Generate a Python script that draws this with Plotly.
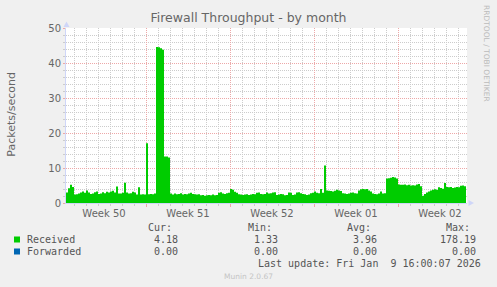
import datetime as dt
import plotly.graph_objects as go

# ---------------- data ----------------
title_text = "Firewall Throughput - by month"
y_title = "Packets/second"
series_start = dt.datetime(2025, 12, 8, 8, 0)
step_hours = 4
view_start = dt.datetime(2025, 12, 8, 8, 0)
view_end = dt.datetime(2026, 1, 10, 18, 0)

received = [
    3.0, 4.2, 5.2, 4.6, 2.4, 2.5,
    2.7, 3.0, 3.3, 2.9, 3.6, 3.0,
    2.6, 2.7, 3.1, 3.3, 2.6, 2.7,
    3.1, 2.8, 3.2, 3.0, 3.3, 3.5,
    3.0, 4.7, 2.7, 2.7, 2.9, 5.8,
    3.0, 2.7, 2.8, 3.2, 3.0, 2.4,
    4.5, 2.4, 2.5, 2.4, 17.1, 2.5,
    2.6, 2.5, 2.7, 44.6, 44.5, 44.2,
    43.8, 13.3, 13.3, 13.0, 2.7, 2.4,
    2.7, 2.5, 2.6, 2.8, 2.4, 2.6,
    2.5, 2.7, 2.9, 2.6, 2.5, 2.4,
    2.5, 2.2, 2.3, 2.1, 2.2, 2.3,
    2.2, 2.4, 2.2, 2.3, 2.9, 3.1,
    2.7, 2.6, 2.8, 2.9, 4.0, 3.8,
    3.2, 2.9, 2.5, 2.4, 2.3, 2.4,
    2.5, 2.3, 2.4, 2.6, 2.5, 2.9,
    3.0, 2.6, 2.5, 2.6, 3.0, 2.7,
    2.8, 3.0, 3.1, 2.3, 2.4, 2.6,
    2.5, 2.2, 2.3, 3.0, 2.9, 2.3,
    2.4, 3.0, 3.1, 2.8, 2.6, 2.5,
    2.3, 2.4, 2.8, 2.9, 3.3, 2.9,
    2.8, 4.0, 2.9, 10.7, 3.6, 3.5,
    3.4, 3.3, 3.5, 3.8, 3.6, 3.4,
    2.8, 2.7, 2.6, 2.7, 2.9, 3.0,
    2.8, 2.7, 3.6, 3.9, 4.0, 3.9,
    4.0, 3.6, 3.3, 2.7, 2.6, 2.5,
    2.7, 3.3, 2.7, 2.8, 7.0, 7.1,
    7.2, 7.4, 7.3, 7.0, 5.3, 5.2,
    5.2, 5.3, 5.1, 5.2, 5.0, 5.1,
    5.0, 5.3, 5.4, 4.8, 2.1, 2.6,
    3.0, 3.3, 3.6, 3.8, 3.9, 3.8,
    4.5, 4.3, 4.1, 5.7, 4.6, 4.5,
    4.6, 4.3, 4.4, 4.6, 4.5, 4.9,
    5.0, 4.8,
]
forwarded = [0.0] * len(received)

week_labels = ["Week 50", "Week 51", "Week 52", "Week 01", "Week 02"]
week_iso = [(2025, 50), (2025, 51), (2025, 52), (2026, 1), (2026, 2)]

stat_headers = ["Cur:", "Min:", "Avg:", "Max:"]
received_stats = ["4.18", "1.33", "3.96", "178.19"]
forwarded_stats = ["0.00", "0.00", "0.00", "0.00"]
series_names = ["Received", "Forwarded"]
series_colors = ["#00CC00", "#0066B3"]
last_update = "Last update: Fri Jan  9 16:00:07 2026"
footer = "Munin 2.0.67"
side_text = "RRDTOOL / TOBI OETIKER"

# ---------------- layout helpers ----------------
W, H = 497, 287
L, R, T, B = 66, 30, 28, 84
PW, PH = W - L - R, H - T - B
FONT_C = "#666666"
AXIS_C = "#CFD6F8"
MGRID_C = "#EDA8A8"
GRID_C = "#CCCCCC"


def px(x):
    return (x - L) / PW


def py(y):
    return (H - B - y) / PH


times = [series_start + dt.timedelta(hours=step_hours * i) for i in range(len(received))]
times_ext = times + [times[-1] + dt.timedelta(hours=step_hours)]
recv_ext = received + [received[-1]]
fwd_ext = forwarded + [forwarded[-1]]

week_starts = [dt.datetime.combine(dt.date.fromisocalendar(y, w, 1), dt.time()) for y, w in week_iso]
week_mids = [ws + dt.timedelta(days=3.5) for ws in week_starts]

fig = go.Figure()
fig.add_trace(go.Scatter(
    x=times_ext, y=recv_ext, mode="lines",
    line=dict(width=0, shape="hv", color=series_colors[0]),
    fill="tozeroy", fillcolor=series_colors[0],
    hoverinfo="skip", showlegend=False,
))
fig.add_trace(go.Scatter(
    x=times_ext, y=fwd_ext, mode="lines", xaxis="x2",
    line=dict(width=0, shape="hv", color=series_colors[1]),
    hoverinfo="skip", showlegend=False,
))

fig.update_layout(
    width=W, height=H, autosize=False,
    margin=dict(l=L, r=R, t=T, b=B, pad=0, autoexpand=False),
    paper_bgcolor="#F0F0F0", plot_bgcolor="#FFFFFF",
    font=dict(family="DejaVu Sans", size=10, color=FONT_C),
    title=dict(text=title_text, x=0.5, xref="container", xanchor="center",
               y=1 - 18 / H, yref="container", yanchor="middle",
               font=dict(family="DejaVu Sans", size=12.5, color=FONT_C)),
    xaxis=dict(
        type="date", range=[view_start, view_end],
        tickmode="array", tickvals=week_starts, showticklabels=False,
        showgrid=True, gridcolor=MGRID_C, griddash="1px,1px", gridwidth=1,
        ticks="outside", ticklen=3, tickcolor=MGRID_C,
        minor=dict(tickmode="linear", tick0=week_starts[0], dtick=86400000,
                   showgrid=True, gridcolor=GRID_C, griddash="1px,1px",
                   ticks="outside", ticklen=2, tickcolor=GRID_C),
        showline=True, linecolor=AXIS_C, linewidth=1, zeroline=False,
        fixedrange=True,
    ),
    xaxis2=dict(
        type="date", range=[view_start, view_end], overlaying="x", anchor="y",
        side="bottom", tickmode="array", tickvals=week_mids, ticktext=week_labels,
        showgrid=False, ticks="", showline=False, zeroline=False,
        ticklabelstandoff=3,
        tickfont=dict(family="DejaVu Sans", size=10, color=FONT_C),
    ),
    yaxis=dict(
        range=[0, 50], tickmode="linear", tick0=0, dtick=10,
        showgrid=True, gridcolor=MGRID_C, griddash="1px,1px",
        ticks="outside", ticklen=2, tickcolor=MGRID_C,
        minor=dict(tickmode="linear", tick0=0, dtick=2, showgrid=True,
                   gridcolor=GRID_C, griddash="1px,1px",
                   ticks="outside", ticklen=2, tickcolor=GRID_C),
        showline=True, linecolor=AXIS_C, linewidth=1, zeroline=False,
        tickfont=dict(family="DejaVu Sans", size=10, color=FONT_C),
    ),
)

ann = []
ann.append(dict(text=y_title, x=px(10.7), y=py(114), xref="paper", yref="paper",
                textangle=-90, showarrow=False, xanchor="center", yanchor="middle",
                font=dict(family="DejaVu Sans", size=11, color=FONT_C)))
ann.append(dict(text=side_text, x=px(487), y=py(53), xref="paper", yref="paper",
                textangle=90, showarrow=False, xanchor="center", yanchor="middle",
                font=dict(family="DejaVu Sans", size=7.5, color="#BBBBBB")))

mono = dict(family="DejaVu Sans Mono", size=10, color="#555555")
col_right = [178.5, 278.5, 377.5, 477]
for i, h in enumerate(stat_headers):
    ann.append(dict(text=h, x=px(col_right[i] - 6), y=py(227.5), xref="paper", yref="paper",
                    showarrow=False, xanchor="right", yanchor="middle", font=mono, borderpad=0))
rows_y = [239.5, 251.5]
for r, (name, stats) in enumerate(zip(series_names, [received_stats, forwarded_stats])):
    ann.append(dict(text=name, x=px(26), y=py(rows_y[r]), xref="paper", yref="paper",
                    showarrow=False, xanchor="left", yanchor="middle", font=mono, borderpad=0))
    for i, s in enumerate(stats):
        ann.append(dict(text=s, x=px(col_right[i]), y=py(rows_y[r]), xref="paper", yref="paper",
                        showarrow=False, xanchor="right", yanchor="middle", font=mono, borderpad=0))
ann.append(dict(text=last_update.replace(" ", "\u00a0"), x=px(482), y=py(263.5),
                xref="paper", yref="paper", showarrow=False, xanchor="right",
                yanchor="middle", font=mono, borderpad=0))
ann.append(dict(text=footer, x=px(248), y=py(276.5), xref="paper", yref="paper",
                showarrow=False, xanchor="center", yanchor="middle", borderpad=0,
                font=dict(family="DejaVu Sans", size=7.5, color="#C4C4C4")))
fig.update_layout(annotations=ann)

shapes = []
for r, c in enumerate(series_colors):
    cy = rows_y[r]
    shapes.append(dict(type="rect", xref="paper", yref="paper",
                       x0=px(14), x1=px(20), y0=py(cy + 3), y1=py(cy - 3),
                       fillcolor=c, line=dict(width=0)))
# axis arrows
def tri(points):
    d = "M " + " L ".join(f"{px(a)},{py(b)}" for a, b in points) + " Z"
    return dict(type="path", xref="paper", yref="paper", path=d,
                fillcolor=AXIS_C, line=dict(width=0))

shapes.append(tri([(66.5, 21.5), (63.5, 27), (69.5, 27)]))
shapes.append(tri([(474, 203), (468.5, 200), (468.5, 206)]))
fig.update_layout(shapes=shapes)

fig.write_html("out.html")
